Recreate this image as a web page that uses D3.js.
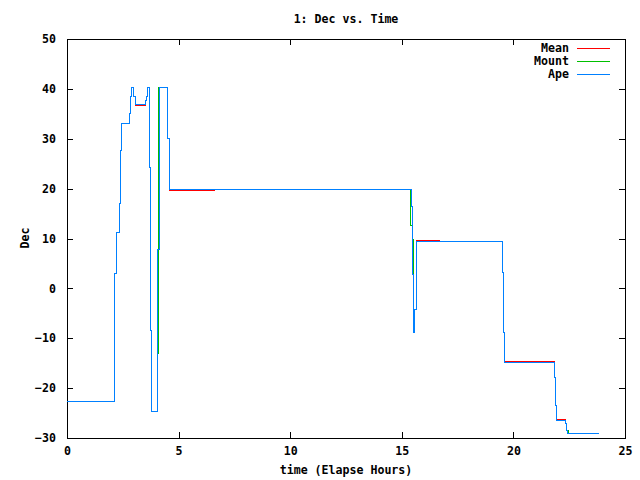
<!doctype html>
<html lang="en">
<head>
<meta charset="UTF-8" />
<title>Dec vs. Time</title>
<style>
  body { margin: 0; background: #fff; }
  text { font-family: 'DejaVu Sans Mono', monospace; font-weight: bold; font-size: 11.6px; fill: #000; }
  .frame { fill: none; stroke: #000; stroke-width: 1; shape-rendering: crispEdges; }
  .tick line { shape-rendering: crispEdges; }
  .series { fill: none; stroke-width: 1; shape-rendering: crispEdges; }
</style>
<script src="https://d3js.org/d3.v7.min.js"></script>
</head>
<body>
<div id="chart"></div>
<script>
// step data: [time in hours, dec] -- value holds until next point
var apePts = [
  [0, -22.6], [2.11, -14.1], [2.15, 2.9], [2.20, 11.3], [2.34, 17.0], [2.39, 27.7],
  [2.43, 33.1], [2.79, 35.1], [2.84, 38.5], [2.88, 40.3], [3.00, 38.5], [3.05, 37.6],
  [3.09, 36.9], [3.51, 37.6], [3.55, 38.5], [3.60, 40.3], [3.69, 24.2], [3.73, -8.4],
  [3.78, -24.6], [4.04, 7.8], [4.15, 40.3], [4.52, 30.1], [4.57, 19.8], [15.45, 16.5],
  [15.48, 2.7], [15.545, -8.9], [15.59, -4.3], [15.64, 4.8], [15.68, 9.3], [19.50, 3.2],
  [19.55, -8.8], [19.59, -14.9], [21.83, -17.8], [21.88, -23.4], [21.92, -26.4],
  [22.34, -27.1], [22.39, -28.5], [22.42, -29.1], [23.82, -29.1]
];

var mountPts = [
  [0, -22.6], [2.11, -14.1], [2.15, 2.9], [2.20, 11.3], [2.34, 17.0], [2.39, 27.7],
  [2.43, 33.1], [2.79, 35.1], [2.84, 38.5], [2.88, 40.3], [3.00, 38.5], [3.05, 37.6],
  [3.09, 36.9], [3.51, 37.6], [3.55, 38.5], [3.60, 40.3], [3.69, 24.2], [3.73, -8.4],
  [3.78, -24.6], [4.04, -13.0], [4.085, 40.3], [4.52, 30.1], [4.57, 19.8],
  [15.40, 12.7], [15.47, 9.7], [15.505, -8.9], [15.59, -4.3], [15.64, 4.8], [15.68, 9.3],
  [19.50, 3.2], [19.55, -8.8], [19.59, -14.9], [21.83, -17.8], [21.88, -23.4],
  [21.92, -26.4], [22.34, -27.1], [22.39, -28.5], [22.45, -29.1], [23.82, -29.1]
];

var meanPts = [
  [0, -22.6], [2.11, -14.1], [2.15, 2.9], [2.20, 11.3], [2.34, 17.0], [2.39, 27.7],
  [2.43, 33.1], [2.79, 35.1], [2.84, 38.5], [2.88, 40.3], [3.00, 38.5], [3.06, 37.6],
  [3.09, 36.6], [3.53, 37.6], [3.55, 38.5], [3.60, 40.3], [3.69, 24.2], [3.73, -8.4],
  [3.78, -24.6], [4.04, 7.8], [4.15, 40.3], [4.52, 30.0], [4.59, 19.6], [6.63, 19.8],
  [15.45, 16.5], [15.48, 2.7], [15.545, -8.9], [15.59, -4.3], [15.65, 4.8], [15.68, 9.5],
  [16.71, 9.3], [19.50, 3.2], [19.56, -8.8], [19.59, -14.7], [21.83, -17.8],
  [21.89, -23.4], [21.92, -26.2], [22.34, -27.1], [22.39, -28.5], [22.42, -29.1],
  [23.82, -29.1]
];

var seriesNames = ['Mean', 'Mount', 'Ape'];
var seriesColors = ['#ff0000', '#00c000', '#0080ff'];
var xTicks = [0, 5, 10, 15, 20, 25];
var yTicks = [-30, -20, -10, 0, 10, 20, 30, 40, 50];

var W = 640, H = 480;
var plotL = 67, plotR = 625, plotT = 39, plotB = 438;

var svg = d3.select('#chart').append('svg')
  .attr('width', W)
  .attr('height', H);

svg.append('rect').attr('width', W).attr('height', H).attr('fill', '#fff');

var x = d3.scaleLinear().domain([0, 25]).range([plotL, plotR]);
var y = d3.scaleLinear().domain([-30, 50]).range([plotB, plotT]);

// axes, ticks point inward (gnuplot style), mirrored on top/right
svg.append('g')
  .attr('transform', 'translate(0,' + plotB + ')')
  .call(d3.axisBottom(x).tickValues(xTicks).tickSize(-6).tickPadding(9).tickFormat(d3.format('d')));
svg.append('g')
  .attr('transform', 'translate(' + plotL + ',0)')
  .call(d3.axisLeft(y).tickValues(yTicks).tickSize(-6).tickPadding(11).tickFormat(d3.format('d')));
svg.append('g')
  .attr('transform', 'translate(0,' + plotT + ')')
  .call(d3.axisTop(x).tickValues(xTicks).tickSize(-6).tickFormat(''));
svg.append('g')
  .attr('transform', 'translate(' + plotR + ',0)')
  .call(d3.axisRight(y).tickValues(yTicks).tickSize(-6).tickFormat(''));

svg.selectAll('.domain').remove();
svg.selectAll('.tick line').attr('stroke', '#000');
svg.selectAll('.tick text')
  .attr('font-family', null).attr('font-size', null);

svg.append('rect')
  .attr('class', 'frame')
  .attr('x', plotL + 0.5).attr('y', plotT + 0.5)
  .attr('width', plotR - plotL).attr('height', plotB - plotT);

var line = d3.line()
  .x(function (d) { return x(d[0]); })
  .y(function (d) { return y(d[1]); })
  .curve(d3.curveStepAfter);

var allSeries = [meanPts, mountPts, apePts];
allSeries.forEach(function (pts, i) {
  svg.append('path')
    .datum(pts)
    .attr('class', 'series')
    .attr('stroke', seriesColors[i])
    .attr('d', line);
});

// titles
svg.append('text')
  .attr('x', (plotL + plotR) / 2).attr('y', 23)
  .attr('text-anchor', 'middle')
  .text('1: Dec vs. Time');

svg.append('text')
  .attr('x', (plotL + plotR) / 2).attr('y', 474)
  .attr('text-anchor', 'middle')
  .text('time (Elapse Hours)');

svg.append('text')
  .attr('transform', 'translate(29,238) rotate(-90)')
  .attr('text-anchor', 'middle')
  .text('Dec');

// legend
var legend = svg.append('g');
seriesNames.forEach(function (name, i) {
  var ly = 48 + i * 13;
  legend.append('text')
    .attr('x', 569).attr('y', ly + 4)
    .attr('text-anchor', 'end')
    .text(name);
  legend.append('line')
    .attr('x1', 577).attr('x2', 610)
    .attr('y1', ly + 0.5).attr('y2', ly + 0.5)
    .attr('stroke', seriesColors[i])
    .attr('stroke-width', 1)
    .style('shape-rendering', 'crispEdges');
});
</script>
</body>
</html>
